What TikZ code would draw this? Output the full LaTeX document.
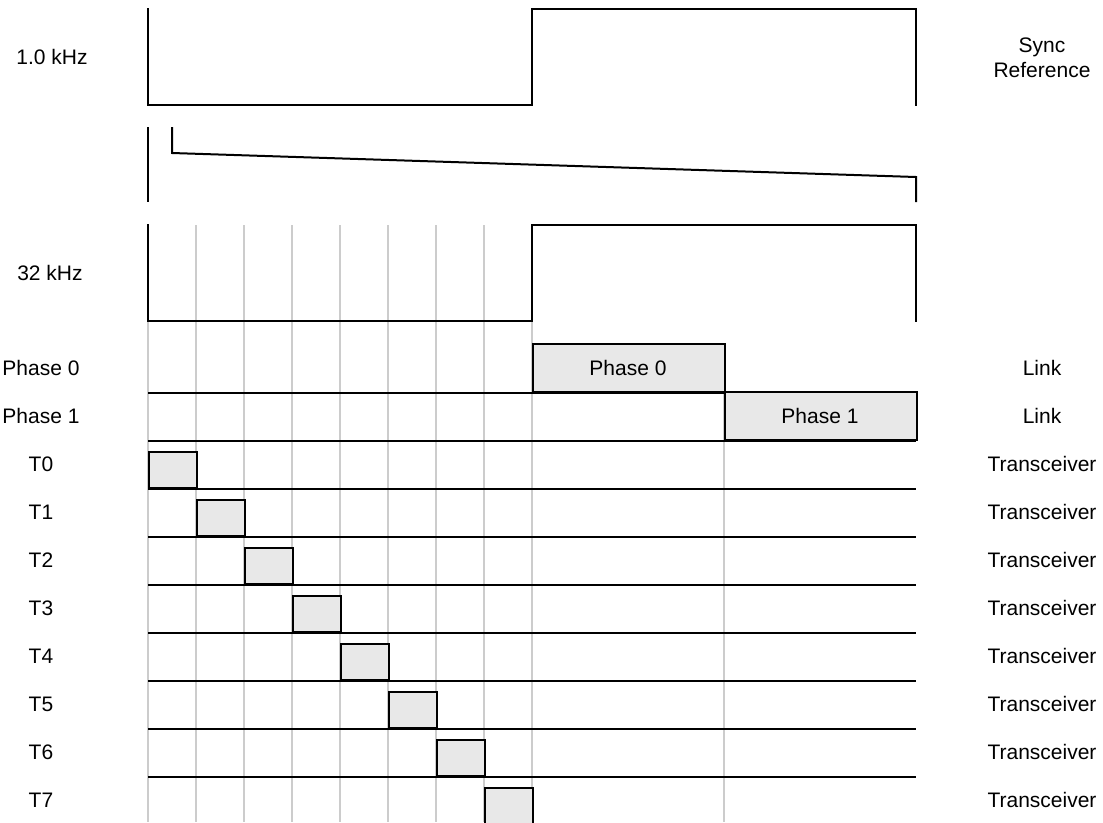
\documentclass[tikz,border=0pt]{standalone}
\usepackage{fontspec}
\setmainfont{Liberation Sans}
\begin{document}
\begin{tikzpicture}[x=1pt,y=-1pt,
  wave/.style={line width=2pt, black, line join=miter, line cap=rect},
  gridline/.style={line width=2pt, gray!40},
  rowline/.style={line width=2pt, black},
  slot/.style={draw=black, line width=2pt, fill=gray!18, minimum width=48pt, minimum height=36pt, inner sep=0pt, anchor=south west},
  linkbox/.style={draw=black, line width=2pt, fill=gray!18, minimum width=192pt, minimum height=48pt, inner sep=0pt, anchor=south west},
  lab/.style={font=\fontsize{21}{25}\selectfont, inner sep=0pt, anchor=base}]
\useasboundingbox (0,0) rectangle (1103,822);
\clip (0,0) rectangle (1103,822);
% grey grid lines
\foreach \i in {1,...,7} {
  \draw[gridline] ({148+48*\i},225) -- ({148+48*\i},822);
}
\draw[gridline] (148,321) -- (148,822);
\draw[gridline] (532,321) -- (532,822);
\draw[gridline] (724,345) -- (724,822);
% row lines
\foreach \yy in {393,441,489,537,585,633,681,729,777} {
  \draw[rowline] (148,\yy) -- (916,\yy);
}
% link boxes
\node[linkbox] (p0) at (532,393) {};
\node[lab] (p0t) at (628,375) {Phase 0};
\node[linkbox] (p1) at (724,441) {};
\node[lab] (p1t) at (820,423) {Phase 1};
% transceiver slots
\foreach \k in {0,...,7} {
  \node[slot] (s\k) at ({148+48*\k},{489+48*\k}) {};
}
% waveforms
\draw[wave] (148,9) -- (148,105) -- (532,105) -- (532,9) -- (916,9) -- (916,105);
\draw[wave] (148,128) -- (148,201);
\draw[wave] (172,128) -- (172,153) -- (916,177) -- (916,201);
\draw[wave] (148,225) -- (148,321) -- (532,321) -- (532,225) -- (916,225) -- (916,321);
% left labels
\node[lab] (l1k) at (52,64) {1.0 kHz};
\node[lab] (l32k) at (50,280) {32 kHz};
\node[lab] (lp0) at (41,375) {Phase 0};
\node[lab] (lp1) at (41,423) {Phase 1};
\foreach \k in {0,...,7} {
  \node[lab] (lt\k) at (41,{471+48*\k}) {T\k};
}
% right labels
\node[lab] (rs1) at (1042,52) {Sync};
\node[lab] (rs2) at (1042,77) {Reference};
\node[lab] (rl0) at (1042,375) {Link};
\node[lab] (rl1) at (1042,423) {Link};
\foreach \k in {0,...,7} {
  \node[lab] (rt\k) at (1042,{471+48*\k}) {Transceiver};
}
\end{tikzpicture}
\end{document}
